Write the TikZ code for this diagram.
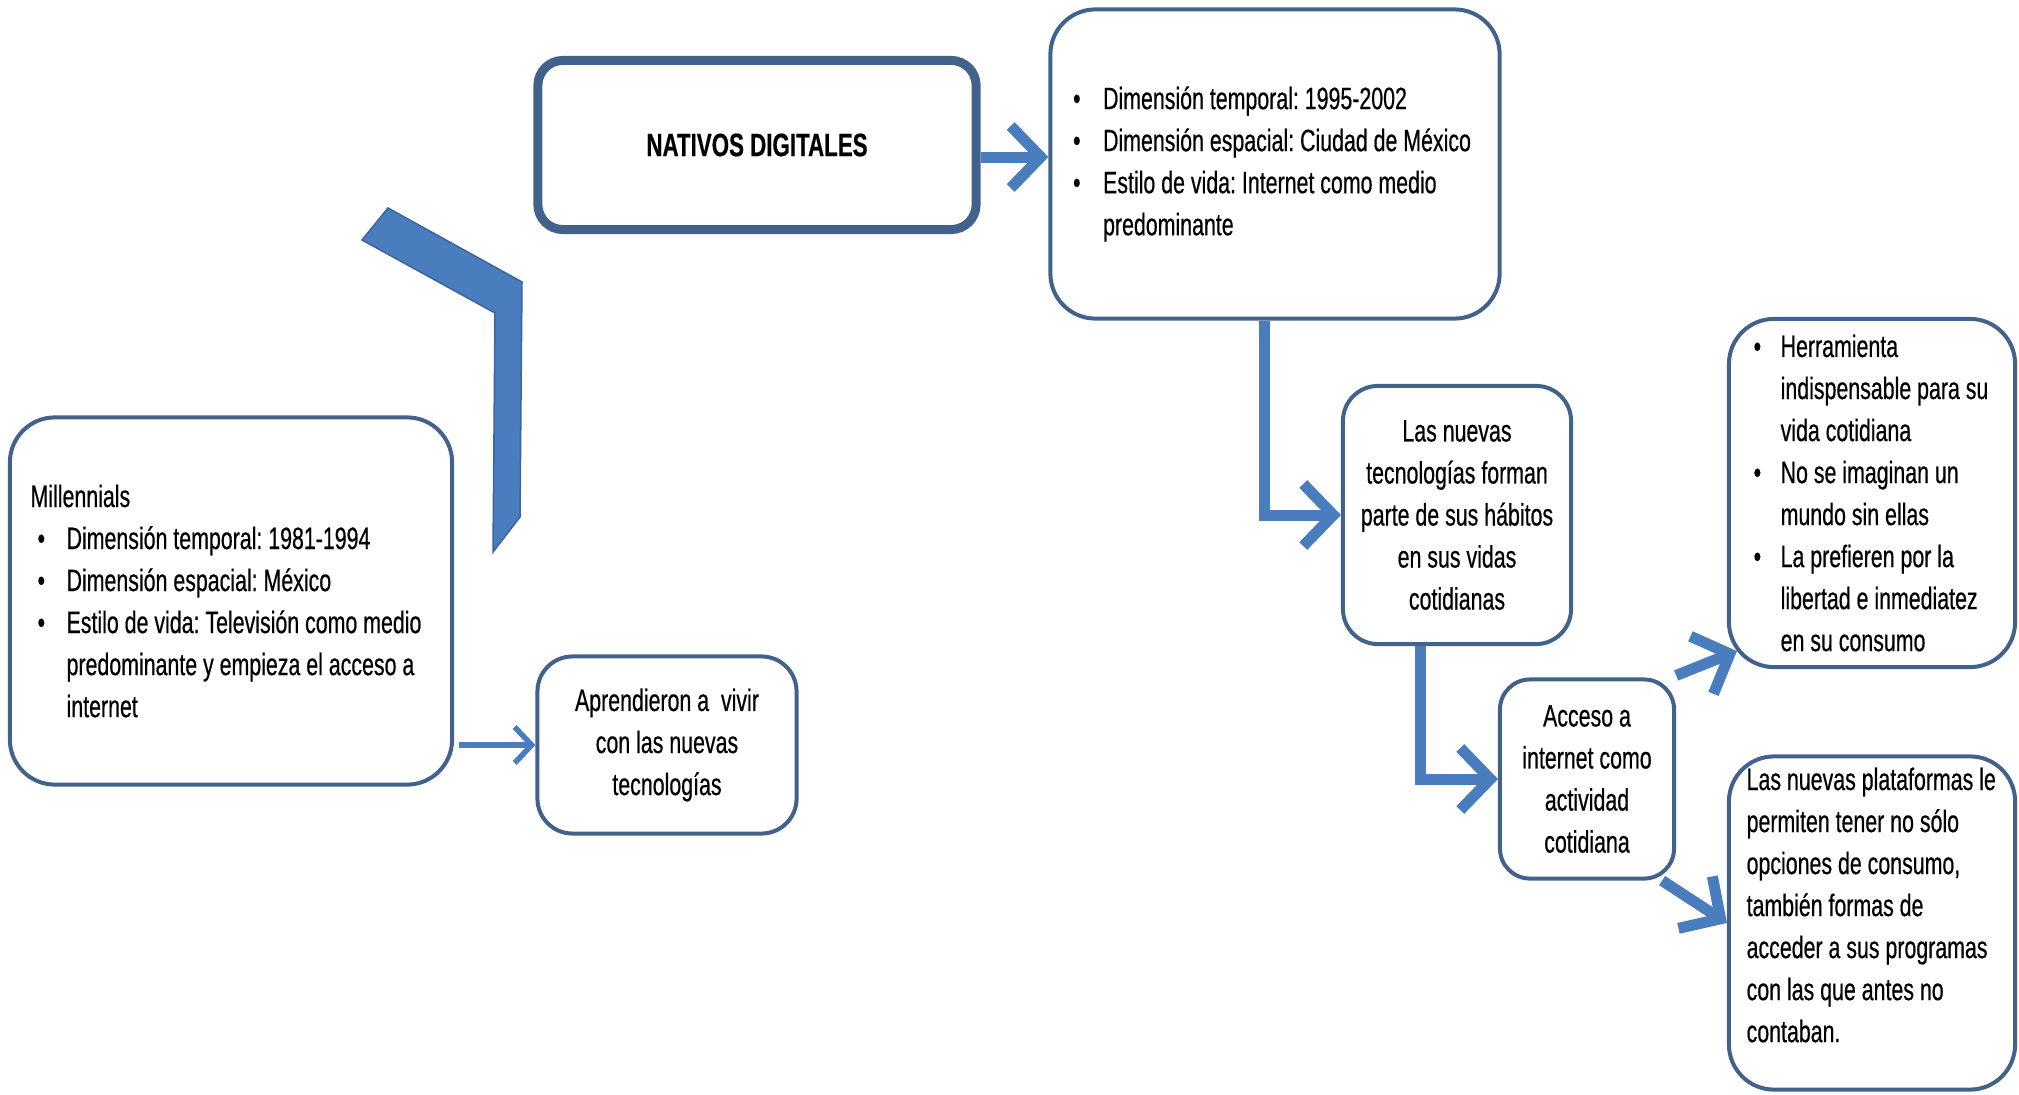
\documentclass[tikz,border=0pt]{standalone}
\usepackage{fontspec}
\setmainfont[FakeStretch=0.69, FakeBold=0.5]{Liberation Sans}
\usetikzlibrary{arrows.meta,calc}
\definecolor{boxc}{RGB}{66,98,140}
\definecolor{arrc}{RGB}{74,125,190}
\definecolor{chevd}{RGB}{58,100,160}
\newcommand\bl[1]{\makebox[#1][l]{•}}
\newcommand\ind[1]{\hspace*{#1}}
\frenchspacing
\tikzset{
  box/.style={draw=boxc, line width=0.04cm, rounded corners=0.45cm, fill=white, inner sep=0pt},
  txt/.style={font=\fontsize{8.8pt}{11.95pt}\selectfont, inner sep=0pt, align=left, anchor=west},
  ctxt/.style={font=\fontsize{8.8pt}{11.95pt}\selectfont, align=center},
  big/.style={draw=arrc, line width=0.11cm, -{Straight Barb[length=0.3cm,width=0.62cm]}},
  small/.style={draw=arrc, line width=0.055cm, -{Straight Barb[length=0.17cm,width=0.36cm]}},
}
\begin{document}
\begin{tikzpicture}[x=0.01cm,y=-0.01cm]
\useasboundingbox (0,0) rectangle (2019,1094);

% chevron shape
\filldraw[fill=arrc, draw=chevd, line width=0.015cm, line join=miter]
  (388,208) -- (522,282) -- (520,517) -- (493,552) -- (495,313) -- (362,240) -- cycle;

% boxes
\node[box, minimum width=4.42cm, minimum height=3.67cm] (mil) at (231,601) {};
\node[box, line width=0.09cm, rounded corners=0.25cm, minimum width=4.38cm, minimum height=1.69cm,
      font=\fontsize{9.2pt}{10pt}\selectfont\bfseries] (nd) at (757,145) {NATIVOS DIGITALES};
\node[box, minimum width=4.49cm, minimum height=3.09cm] (tr) at (1275,164) {};
\node[box, rounded corners=0.35cm, minimum width=2.59cm, minimum height=1.77cm, ctxt] (ap) at (667,745)
  {Aprendieron a~ vivir\\con las nuevas\\tecnologías};
\node[box, rounded corners=0.35cm, minimum width=2.28cm, minimum height=2.58cm, ctxt] (nt) at (1457,515)
  {Las nuevas\\tecnologías forman\\parte de sus hábitos\\en sus vidas\\cotidianas};
\node[box, rounded corners=0.3cm, minimum width=1.74cm, minimum height=1.99cm, ctxt] (ac) at (1587,779)
  {Acceso a\\internet como\\actividad\\cotidiana};
\node[box, minimum width=2.86cm, minimum height=3.48cm] (he) at (1872,493) {};
\node[box, minimum width=2.86cm, minimum height=3.33cm] (pl) at (1872,923) {};

% texts in left-aligned boxes
\node[txt] (milt) at ($(mil.west)+(22,0)$)
  {Millennials\\
   \ind{0.07cm}\bl{0.29cm}Dimensión temporal: 1981-1994\\
   \ind{0.07cm}\bl{0.29cm}Dimensión espacial: México\\
   \ind{0.07cm}\bl{0.29cm}Estilo de vida: Televisión como medio\\
   \ind{0.36cm}predominante y empieza el acceso a\\
   \ind{0.36cm}internet};
\node[txt] (trt) at ($(tr.west)+(24,0)$)
  {\bl{0.30cm}Dimensión temporal: 1995-2002\\
   \bl{0.30cm}Dimensión espacial: Ciudad de México\\
   \bl{0.30cm}Estilo de vida: Internet como medio\\
   \ind{0.30cm}predominante};
\node[txt] (het) at ($(he.west)+(26,0)$)
  {\bl{0.27cm}Herramienta\\
   \ind{0.27cm}indispensable para su\\
   \ind{0.27cm}vida cotidiana\\
   \bl{0.27cm}No se imaginan un\\
   \ind{0.27cm}mundo sin ellas\\
   \bl{0.27cm}La prefieren por la\\
   \ind{0.27cm}libertad e inmediatez\\
   \ind{0.27cm}en su consumo};
\node[txt] (plt) at ($(pl.west)+(19,-18)$)
  {Las nuevas plataformas le\\
   permiten tener no sólo\\
   opciones de consumo,\\
   también formas de\\
   acceder a sus programas\\
   con las que antes no\\
   contaban.};

% connectors
\draw[big] ([yshift=-0.12cm]nd.east) -- ([yshift=-0.12cm]nd.east -| tr.west);
\draw[small] (ap.west -| mil.east) ++(5,0) coordinate (ms) (ms) -- (ap.west);
\draw[big] ([xshift=-0.11cm]tr.south) |- (nt.west);
\draw[big] ([xshift=-0.37cm]nt.south) |- (ac.west);
\draw[big] ([yshift=0.02cm]ac.north east) -- ($(he.south west)+(10,-18)$);
\draw[big] ([xshift=-0.14cm]ac.south east) -- (pl.west);
\end{tikzpicture}
\end{document}
